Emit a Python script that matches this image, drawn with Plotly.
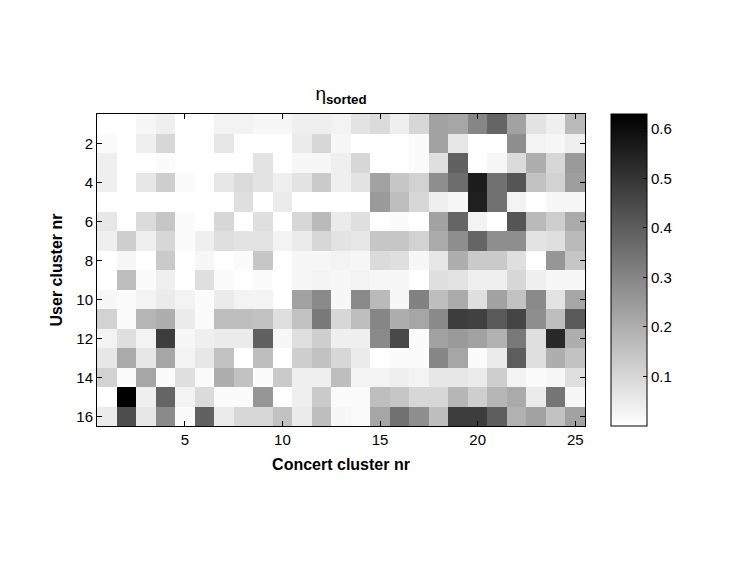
import plotly.graph_objects as go

# ─── Data ──────────────────────────────────────────────────────────────────────
CONCERT_CLUSTERS = list(range(1, 26))
USER_CLUSTERS = list(range(1, 17))

ETA_ROW_1 = [0.00, 0.00, 0.02, 0.04, 0.00, 0.00, 0.03, 0.03, 0.02, 0.02, 0.04, 0.04, 0.03, 0.07, 0.09, 0.04, 0.10, 0.23, 0.22, 0.30, 0.38, 0.23, 0.07, 0.04, 0.17]
ETA_ROW_2 = [0.01, 0.00, 0.04, 0.10, 0.00, 0.00, 0.06, 0.00, 0.00, 0.00, 0.05, 0.10, 0.02, 0.00, 0.00, 0.00, 0.01, 0.23, 0.06, 0.00, 0.00, 0.28, 0.03, 0.02, 0.04]
ETA_ROW_3 = [0.04, 0.00, 0.00, 0.01, 0.00, 0.00, 0.00, 0.00, 0.07, 0.00, 0.02, 0.02, 0.04, 0.10, 0.00, 0.00, 0.01, 0.08, 0.39, 0.00, 0.02, 0.09, 0.20, 0.10, 0.25]
ETA_ROW_4 = [0.04, 0.00, 0.06, 0.12, 0.01, 0.00, 0.06, 0.09, 0.07, 0.04, 0.07, 0.13, 0.04, 0.07, 0.23, 0.14, 0.11, 0.28, 0.36, 0.56, 0.35, 0.42, 0.15, 0.11, 0.24]
ETA_ROW_5 = [0.00, 0.00, 0.00, 0.00, 0.00, 0.00, 0.00, 0.08, 0.00, 0.05, 0.00, 0.00, 0.00, 0.00, 0.25, 0.16, 0.10, 0.04, 0.02, 0.55, 0.35, 0.03, 0.00, 0.02, 0.02]
ETA_ROW_6 = [0.06, 0.00, 0.09, 0.14, 0.01, 0.00, 0.10, 0.00, 0.08, 0.00, 0.10, 0.17, 0.05, 0.08, 0.00, 0.01, 0.00, 0.23, 0.38, 0.03, 0.00, 0.42, 0.17, 0.12, 0.21]
ETA_ROW_7 = [0.04, 0.12, 0.04, 0.10, 0.01, 0.04, 0.08, 0.07, 0.07, 0.03, 0.05, 0.10, 0.07, 0.06, 0.14, 0.14, 0.11, 0.21, 0.28, 0.38, 0.28, 0.28, 0.07, 0.08, 0.17]
ETA_ROW_8 = [0.00, 0.02, 0.00, 0.13, 0.00, 0.02, 0.00, 0.01, 0.14, 0.00, 0.02, 0.02, 0.03, 0.02, 0.09, 0.08, 0.02, 0.06, 0.20, 0.13, 0.13, 0.08, 0.00, 0.26, 0.14]
ETA_ROW_9 = [0.00, 0.16, 0.01, 0.04, 0.00, 0.08, 0.01, 0.00, 0.01, 0.00, 0.02, 0.03, 0.02, 0.03, 0.02, 0.02, 0.00, 0.08, 0.07, 0.04, 0.04, 0.10, 0.04, 0.02, 0.02]
ETA_ROW_10 = [0.02, 0.01, 0.03, 0.05, 0.03, 0.01, 0.05, 0.03, 0.03, 0.00, 0.23, 0.29, 0.02, 0.29, 0.17, 0.02, 0.31, 0.16, 0.21, 0.08, 0.23, 0.15, 0.29, 0.07, 0.22]
ETA_ROW_11 = [0.11, 0.01, 0.18, 0.20, 0.05, 0.01, 0.16, 0.16, 0.15, 0.08, 0.15, 0.33, 0.10, 0.16, 0.30, 0.20, 0.22, 0.29, 0.48, 0.47, 0.41, 0.46, 0.28, 0.16, 0.41]
ETA_ROW_12 = [0.03, 0.08, 0.03, 0.48, 0.02, 0.04, 0.05, 0.05, 0.39, 0.02, 0.08, 0.12, 0.04, 0.04, 0.29, 0.45, 0.01, 0.23, 0.25, 0.23, 0.19, 0.33, 0.08, 0.53, 0.20]
ETA_ROW_13 = [0.06, 0.21, 0.06, 0.22, 0.03, 0.06, 0.15, 0.00, 0.16, 0.00, 0.12, 0.15, 0.10, 0.05, 0.00, 0.01, 0.01, 0.30, 0.22, 0.01, 0.05, 0.40, 0.08, 0.20, 0.15]
ETA_ROW_14 = [0.11, 0.01, 0.22, 0.01, 0.08, 0.01, 0.20, 0.15, 0.01, 0.13, 0.04, 0.04, 0.16, 0.03, 0.03, 0.04, 0.03, 0.06, 0.06, 0.05, 0.12, 0.03, 0.01, 0.02, 0.08]
ETA_ROW_15 = [0.00, 0.63, 0.04, 0.38, 0.03, 0.09, 0.01, 0.01, 0.26, 0.00, 0.04, 0.13, 0.01, 0.01, 0.16, 0.14, 0.10, 0.10, 0.18, 0.12, 0.18, 0.21, 0.05, 0.34, 0.02]
ETA_ROW_16 = [0.05, 0.44, 0.06, 0.29, 0.01, 0.39, 0.05, 0.10, 0.10, 0.15, 0.05, 0.16, 0.02, 0.01, 0.22, 0.35, 0.28, 0.16, 0.48, 0.48, 0.40, 0.19, 0.23, 0.15, 0.23]

X_TICKS = [5, 10, 15, 20, 25]
Y_TICKS = [2, 4, 6, 8, 10, 12, 14, 16]
CBAR_TICKS = [0.1, 0.2, 0.3, 0.4, 0.5, 0.6]

eta = [ETA_ROW_1, ETA_ROW_2, ETA_ROW_3, ETA_ROW_4, ETA_ROW_5, ETA_ROW_6,
       ETA_ROW_7, ETA_ROW_8, ETA_ROW_9, ETA_ROW_10, ETA_ROW_11, ETA_ROW_12,
       ETA_ROW_13, ETA_ROW_14, ETA_ROW_15, ETA_ROW_16]

FONT = "Liberation Sans, Arial, Helvetica, sans-serif"

fig = go.Figure(go.Heatmap(
    x=CONCERT_CLUSTERS, y=USER_CLUSTERS, z=eta,
    colorscale=[[0, "#ffffff"], [1, "#000000"]],
    zmin=0, zmax=0.63,
    colorbar=dict(
        x=1.053, xanchor="left", y=0.5, yanchor="middle",
        len=1.0, lenmode="fraction", thickness=36, thicknessmode="pixels",
        outlinecolor="black", outlinewidth=1,
        tickvals=CBAR_TICKS, ticks="inside", ticklen=4, tickcolor="black",
        tickfont=dict(size=15, color="black", family=FONT),
        xpad=0, ypad=0,
    ),
))

# the page body adds an 8px offset, so the figure is 8px smaller each way
fig.update_layout(
    width=739, height=553,
    paper_bgcolor="white", plot_bgcolor="white",
    margin=dict(l=89, r=162, t=106, b=135, autoexpand=False),
    font=dict(family=FONT, color="black", size=15),
    title=dict(text="η<b><sub>sorted</sub></b>", x=0.5, xref="paper", xanchor="center",
               y=1, yref="paper", yanchor="bottom", pad=dict(b=14),
               font=dict(size=19, color="black")),
)
fig.update_xaxes(
    range=[0.5, 25.5], tickvals=X_TICKS, ticks="inside", ticklen=5, tickcolor="black",
    showline=True, linecolor="black", linewidth=1, mirror="ticks", showgrid=False,
    zeroline=False, tickfont=dict(size=15),
    title=dict(text="<b>Concert cluster nr</b>", font=dict(size=16), standoff=11),
)
fig.update_yaxes(
    range=[16.5, 0.5], tickvals=Y_TICKS, ticks="inside", ticklen=5, tickcolor="black",
    showline=True, linecolor="black", linewidth=1, mirror="ticks", showgrid=False,
    zeroline=False, tickfont=dict(size=15),
    title=dict(text="<b>User cluster nr</b>", font=dict(size=16), standoff=9),
)

fig.write_html("out.html")
